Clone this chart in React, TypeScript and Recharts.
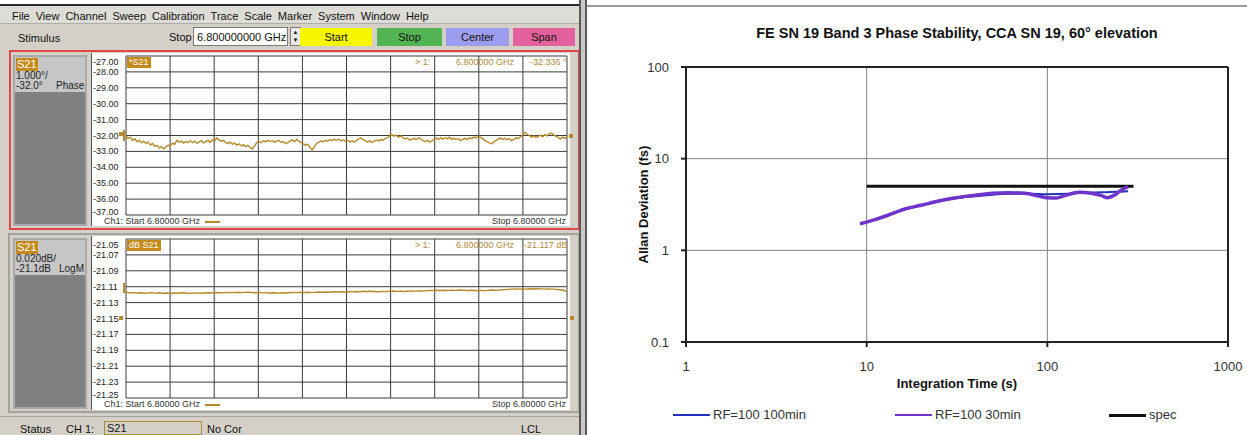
import React from "react";
import { LineChart, Line, XAxis, YAxis, CartesianGrid, ReferenceLine } from "recharts";

// ---- VNA screenshot (left half) ----
const menuItems = ["File", "View", "Channel", "Sweep", "Calibration", "Trace", "Scale", "Marker", "System", "Window", "Help"];
const stimulusButtons = [
  { label: "Start", color: "#f7f700", left: 300, width: 72 },
  { label: "Stop", color: "#52b452", left: 377, width: 65 },
  { label: "Center", color: "#9d9df0", left: 446, width: 63 },
  { label: "Span", color: "#e2609c", left: 513, width: 62 },
];

const phaseTicks = [-27, -28, -29, -30, -31, -32, -33, -34, -35, -36, -37];
const logmTicks = [-21.05, -21.07, -21.09, -21.11, -21.13, -21.15, -21.17, -21.19, -21.21, -21.23, -21.25];

// S21 phase trace (deg)
const phaseTrace = [
  -32.02, -32.18, -32.12, -32.3, -32.22, -32.38, -32.3, -32.45, -32.35, -32.5,
  -32.42, -32.6, -32.5, -32.68, -32.62, -32.78, -32.7, -32.85, -32.72, -32.6,
  -32.66, -32.48, -32.55, -32.3, -32.42, -32.35, -32.48, -32.38, -32.45, -32.32,
  -32.45, -32.36, -32.5, -32.4, -32.32, -32.46, -32.38, -32.3, -32.42, -32.28,
  -32.35, -32.15, -32.28, -32.36, -32.3, -32.45, -32.5, -32.42, -32.55, -32.48,
  -32.6, -32.52, -32.66, -32.58, -32.7, -32.62, -32.75, -32.85, -32.65, -32.45,
  -32.38, -32.45, -32.32, -32.4, -32.3, -32.38, -32.33, -32.42, -32.35, -32.3,
  -32.44, -32.38, -32.52, -32.45, -32.36, -32.28, -32.4, -32.25, -32.35, -32.45,
  -32.52, -32.62, -32.55, -32.75, -32.92, -32.7, -32.5, -32.42, -32.35, -32.4,
  -32.3, -32.36, -32.26, -32.32, -32.24, -32.3, -32.22, -32.34, -32.28, -32.36,
  -32.3, -32.4, -32.34, -32.42, -32.3, -32.22, -32.15, -32.26, -32.32, -32.4,
  -32.34, -32.44, -32.36, -32.28, -32.34, -32.25, -32.3, -32.2, -32.14, -32.05,
  -31.95, -32.04, -31.98, -32.1, -32.02, -32.15, -32.22, -32.16, -32.3, -32.24,
  -32.18, -32.26, -32.15, -32.22, -32.3, -32.38, -32.3, -32.42, -32.34, -32.25,
  -32.16, -32.24, -32.15, -32.22, -32.14, -32.2, -32.12, -32.24, -32.18, -32.25,
  -32.2, -32.32, -32.25, -32.18, -32.26, -32.14, -32.2, -32.1, -32.16, -32.04,
  -32.12, -32.2, -32.32, -32.4, -32.46, -32.52, -32.4, -32.3, -32.22, -32.16,
  -32.24, -32.18, -32.26, -32.2, -32.32, -32.24, -32.15, -32.2, -32.08, -31.96,
  -31.8, -31.92, -32.0, -32.1, -32.02, -32.12, -32.05, -31.98, -32.08, -31.95,
  -32.02, -31.9, -31.84, -31.95, -32.05, -32.12, -32.22, -32.1, -32.18, -32.06,
];

// S21 log magnitude trace (dB)
const logmTrace = [
  -21.117, -21.1178, -21.1175, -21.118, -21.1176, -21.1182, -21.1178, -21.1175, -21.1181, -21.1177,
  -21.1183, -21.118, -21.1184, -21.1179, -21.1182, -21.1177, -21.118, -21.1185, -21.1181, -21.1178,
  -21.1182, -21.1179, -21.1176, -21.118, -21.1177, -21.1173, -21.1178, -21.1175, -21.1171, -21.1174,
  -21.117, -21.1175, -21.1172, -21.1168, -21.1173, -21.1176, -21.1172, -21.1178, -21.1174, -21.1179,
  -21.1176, -21.1181, -21.1177, -21.118, -21.1176, -21.1172, -21.1175, -21.117, -21.1173, -21.1169,
  -21.1174, -21.1171, -21.1167, -21.117, -21.1166, -21.1169, -21.1164, -21.1167, -21.1163, -21.1166,
  -21.1162, -21.1165, -21.116, -21.1163, -21.1158, -21.1161, -21.1157, -21.116, -21.1163, -21.1159,
  -21.1162, -21.1158, -21.1155, -21.1159, -21.1156, -21.116, -21.1157, -21.1153, -21.1156, -21.1152,
  -21.1155, -21.115, -21.1146, -21.1149, -21.1145, -21.1148, -21.1144, -21.1147, -21.1143, -21.1146,
  -21.1142, -21.1145, -21.1148, -21.1144, -21.1147, -21.115, -21.1146, -21.1149, -21.1145, -21.1142,
  -21.1146, -21.1141, -21.1138, -21.1134, -21.1131, -21.1128, -21.1131, -21.1127, -21.113, -21.1126,
  -21.1129, -21.1125, -21.1128, -21.1131, -21.1127, -21.113, -21.1134, -21.1138, -21.1145, -21.116,
];

// ---- Allan deviation chart (right half) ----
const tauTicks = [1, 10, 100, 1000];
const adevTicks = [0.1, 1, 10, 100];
const rf100min = [
  { t: 9.2, v: 1.95 }, { t: 11, v: 2.15 }, { t: 13, v: 2.4 }, { t: 16, v: 2.75 }, { t: 20, v: 3.1 },
  { t: 25, v: 3.4 }, { t: 30, v: 3.65 }, { t: 40, v: 3.9 }, { t: 50, v: 4.05 }, { t: 60, v: 4.15 },
  { t: 80, v: 4.15 }, { t: 100, v: 4.1 }, { t: 130, v: 4.15 }, { t: 160, v: 4.25 }, { t: 200, v: 4.3 },
  { t: 240, v: 4.35 }, { t: 280, v: 4.4 },
];
const rf30min = [
  { t: 9.2, v: 1.95 }, { t: 11, v: 2.15 }, { t: 13, v: 2.4 }, { t: 16, v: 2.8 }, { t: 20, v: 3.1 },
  { t: 25, v: 3.45 }, { t: 30, v: 3.7 }, { t: 40, v: 4.0 }, { t: 50, v: 4.2 }, { t: 60, v: 4.25 },
  { t: 75, v: 4.2 }, { t: 90, v: 3.9 }, { t: 100, v: 3.75 }, { t: 112, v: 3.72 }, { t: 125, v: 3.95 },
  { t: 150, v: 4.3 }, { t: 175, v: 4.2 }, { t: 200, v: 3.95 }, { t: 215, v: 3.75 }, { t: 235, v: 4.0 },
  { t: 255, v: 4.5 }, { t: 280, v: 4.95 },
];
const spec = [{ t: 10, v: 5 }, { t: 300, v: 5 }];

const BLUE = "#2233bb";
const PURPLE = "#6e34cc";
const legendItems = [
  { label: "RF=100 100min", color: BLUE, left: 673, h: 2 },
  { label: "RF=100 30min", color: PURPLE, left: 895, h: 2 },
  { label: "spec", color: "#111111", left: 1109, h: 3 },
];

const TRACE = "#b8892a";
const TAG = "#c48a1c";
const READ = "#b08a3a";
const PANEL = "#d4d0c8";
const VNA_FONT = "'Liberation Sans', Arial, sans-serif";

const box = (left: number, top: number, width: number, height: number, extra: React.CSSProperties = {}): React.CSSProperties => ({
  position: "absolute", left, top, width, height, boxSizing: "border-box", ...extra,
});
const txt = (left: number, top: number, size: number, extra: React.CSSProperties = {}): React.CSSProperties => ({
  position: "absolute", left, top, fontSize: size, lineHeight: 1, whiteSpace: "nowrap", ...extra,
});

function makeTick(plotTop: number, plotBottom: number) {
  return (props: any) => {
    const { y, payload } = props;
    const yy = Math.min(Math.max(y, plotTop + 6), plotBottom - 3);
    return (
      <text x={2} y={yy} dy={3} fontSize={9} fill="#222" fontFamily={VNA_FONT} textAnchor="start">
        {payload.value.toFixed(2)}
      </text>
    );
  };
}

function vGrid() {
  const xs: number[] = [];
  for (let k = 0; k <= 10; k++) xs.push(35 + (441 * k) / 10);
  return xs;
}

function Trace({ values, domain, ticks, height, bottom }: { values: number[]; domain: [number, number]; ticks: number[]; height: number; bottom: number }) {
  const data = values.map((v, i) => ({ i, v }));
  return (
    <LineChart width={479} height={height} data={data} margin={{ top: 3, right: 3, bottom, left: 0 }}>
      <CartesianGrid stroke="#3c3c3c" strokeWidth={1} verticalCoordinatesGenerator={vGrid} />
      <XAxis dataKey="i" type="number" domain={[0, values.length - 1]} hide />
      <YAxis
        type="number"
        domain={domain}
        ticks={ticks}
        width={35}
        axisLine={false}
        tickLine={false}
        interval={0}
        tick={makeTick(3, height - bottom)}
        allowDataOverflow
      />
      <Line dataKey="v" stroke={TRACE} strokeWidth={1.4} dot={false} type="linear" isAnimationActive={false} />
    </LineChart>
  );
}

function InfoBox({ top, height, line1, line2, mode }: { top: number; height: number; line1: string; line2: string; mode: string }) {
  return (
    <>
      <div style={box(13, top, 74, height, { background: "#808080", border: "2px solid #a8a8a8" })} />
      <div style={box(15, top + 2, 70, 35, { background: "#c6c6c6" })} />
      <div style={txt(16, top + 3, 11, { background: TAG, color: "#fff", padding: "1px 1px" })}>S21</div>
      <div style={txt(16, top + 16, 10, { color: "#222" })}>{line1}</div>
      <div style={txt(16, top + 26, 10, { color: "#222" })}>{line2}</div>
      <div style={txt(84 - 28, top + 26, 10, { color: "#222", width: 28, textAlign: "right" })}>{mode}</div>
    </>
  );
}

function VnaScreen() {
  return (
    <div style={{ fontFamily: VNA_FONT, color: "#111" }}>
      <div style={box(0, 4, 581, 431, { background: PANEL, borderTop: "2px solid #2a2a2a" })} />
      <div style={box(0, 6, 581, 18, { background: "#dedcd6", borderBottom: "1px solid #b0aea8" })} />
      <div style={txt(12, 11, 11, { display: "flex" })}>
        {menuItems.map((m) => (
          <span key={m} style={{ marginRight: 6 }}>{m}</span>
        ))}
      </div>
      <div style={txt(18, 33, 11)}>Stimulus</div>
      <div style={txt(169, 32, 11)}>Stop</div>
      <div style={box(193, 27, 95, 19, { background: "#fff", border: "1px solid #7a7a7a", fontSize: 11, padding: "3px 3px", whiteSpace: "nowrap" })}>
        6.800000000 GHz
      </div>
      <div style={box(290, 27, 11, 19, { background: "#e8e8e8", border: "1px solid #7a7a7a", fontSize: 6, lineHeight: "8px", textAlign: "center" })}>
        ▲<br />▼
      </div>
      {stimulusButtons.map((b) => (
        <div key={b.label} style={box(b.left, 28, b.width, 18, { background: b.color, fontSize: 11, lineHeight: "18px", textAlign: "center" })}>
          {b.label}
        </div>
      ))}

      {/* channel 1 window - phase */}
      <div style={box(9, 50, 571, 180, { border: "2px solid #e04848", background: PANEL })} />
      <InfoBox top={55} height={171} line1="1.000°/" line2="-32.0°" mode="Phase" />
      <div style={box(91, 53, 479, 173, { background: "#fff", borderLeft: "1px solid #555" })} />
      <div style={{ position: "absolute", left: 91, top: 53 }}>
        <Trace values={phaseTrace} domain={[-37, -27]} ticks={phaseTicks} height={173} bottom={11} />
      </div>
      <div style={box(123, 130, 2, 11, { background: TRACE })} />
      <div style={box(119, 132, 4, 4, { background: TRACE })} />
      <div style={box(569, 134, 4, 4, { background: TRACE })} />
      <div style={txt(127, 57, 9, { background: TAG, color: "#fff", padding: "1px 2px" })}>*S21</div>
      <div style={txt(415, 58, 9, { color: READ })}>&gt; 1:</div>
      <div style={txt(456, 58, 9, { color: READ })}>6.800000 GHz</div>
      <div style={txt(530, 58, 9, { color: READ })}>-32.336 °</div>
      <div style={txt(104, 217, 9, { color: "#333" })}>Ch1: Start 6.80000 GHz</div>
      <div style={box(205, 221, 15, 2, { background: TRACE })} />
      <div style={txt(466, 217, 9, { color: "#333", width: 100, textAlign: "right" })}>Stop 6.80000 GHz</div>

      {/* channel 1 window - log mag */}
      <div style={box(8, 233, 572, 180, { border: "2px solid #a4a29c", background: PANEL })} />
      <InfoBox top={238} height={171} line1="0.020dB/" line2="-21.1dB" mode="LogM" />
      <div style={box(91, 236, 479, 174, { background: "#fff", borderLeft: "1px solid #555" })} />
      <div style={{ position: "absolute", left: 91, top: 236 }}>
        <Trace values={logmTrace} domain={[-21.25, -21.05]} ticks={logmTicks} height={174} bottom={12} />
      </div>
      <div style={box(123, 283, 2, 10, { background: TRACE })} />
      <div style={box(119, 316, 4, 4, { background: TRACE })} />
      <div style={box(570, 316, 4, 4, { background: TRACE })} />
      <div style={txt(127, 240, 9, { background: TAG, color: "#fff", padding: "1px 2px" })}>dB S21</div>
      <div style={txt(415, 241, 9, { color: READ })}>&gt; 1:</div>
      <div style={txt(456, 241, 9, { color: READ })}>6.800000 GHz</div>
      <div style={txt(524, 241, 9, { color: READ })}>-21.117 dB</div>
      <div style={txt(104, 400, 9, { color: "#333" })}>Ch1: Start 6.80000 GHz</div>
      <div style={box(205, 404, 15, 2, { background: TRACE })} />
      <div style={txt(466, 400, 9, { color: "#333", width: 100, textAlign: "right" })}>Stop 6.80000 GHz</div>

      {/* status bar */}
      <div style={box(0, 416, 581, 1, { background: "#a4a29c" })} />
      <div style={txt(20, 424, 11)}>Status</div>
      <div style={txt(66, 424, 11)}>CH 1:</div>
      <div style={box(104, 421, 98, 14, { border: "1px solid #b08a3a", fontSize: 11, paddingLeft: 2, lineHeight: "12px" })}>S21</div>
      <div style={txt(207, 424, 11)}>No Cor</div>
      <div style={txt(521, 424, 11)}>LCL</div>
    </div>
  );
}

function AllanChart() {
  return (
    <>
      <div style={box(587, 5, 660, 2, { background: "#9a9a9a" })} />
      <div style={txt(686, 26, 14.5, { width: 542, textAlign: "center", fontWeight: "bold", color: "#111" })}>
        FE SN 19 Band 3 Phase Stability, CCA SN 19, 60° elevation
      </div>
      <div style={{ position: "absolute", left: 590, top: 0 }}>
        <LineChart width={657} height={435} margin={{ top: 67, right: 19, bottom: 47, left: 10 }}>
          <CartesianGrid stroke="#808080" strokeWidth={1} />
          <XAxis
            dataKey="t"
            type="number"
            scale="log"
            domain={[1, 1000]}
            ticks={tauTicks}
            allowDataOverflow
            height={46}
            stroke="#222"
            strokeWidth={2}
            tickSize={5}
            tickMargin={15}
            tick={{ fill: "#333", fontSize: 13 }}
            label={{ value: "Integration Time (s)", position: "insideBottom", offset: 0, fill: "#111", fontSize: 13, fontWeight: "bold" }}
          />
          <YAxis
            dataKey="v"
            type="number"
            scale="log"
            domain={[0.1, 100]}
            ticks={adevTicks}
            allowDataOverflow
            width={86}
            stroke="#222"
            strokeWidth={2}
            tickSize={5}
            tickMargin={12}
            tick={{ fill: "#333", fontSize: 13 }}
            tickFormatter={(v: number) => String(v)}
            label={{ value: "Allan Deviation (fs)", angle: -90, position: "center", fill: "#111", fontSize: 13, fontWeight: "bold" }}
          />
          <ReferenceLine y={100} stroke="#222" strokeWidth={2} />
          <ReferenceLine x={1000} stroke="#222" strokeWidth={2} />
          <Line data={spec} dataKey="v" stroke="#111" strokeWidth={3} dot={false} isAnimationActive={false} />
          <Line data={rf100min} dataKey="v" stroke={BLUE} strokeWidth={2} dot={false} type="monotone" isAnimationActive={false} />
          <Line data={rf30min} dataKey="v" stroke={PURPLE} strokeWidth={3.5} dot={false} type="monotone" isAnimationActive={false} />
        </LineChart>
      </div>
      {legendItems.map((it) => (
        <React.Fragment key={it.label}>
          <div style={box(it.left, 415 - Math.floor(it.h / 2), 37, it.h, { background: it.color })} />
          <div style={txt(it.left + 40, 408, 13, { color: "#333" })}>{it.label}</div>
        </React.Fragment>
      ))}
    </>
  );
}

export default function App() {
  return (
    <div
      style={{
        position: "absolute", left: 0, top: 0, width: 1247, height: 435, overflow: "hidden",
        background: "#fff", fontFamily: "'Liberation Sans', Arial, sans-serif",
      }}
    >
      <VnaScreen />
      <div style={box(579, 0, 8, 435, { background: "#c8c8c8", borderLeft: "2px solid #5a5a5a", borderRight: "2px solid #5a5a5a" })} />
      <AllanChart />
    </div>
  );
}
